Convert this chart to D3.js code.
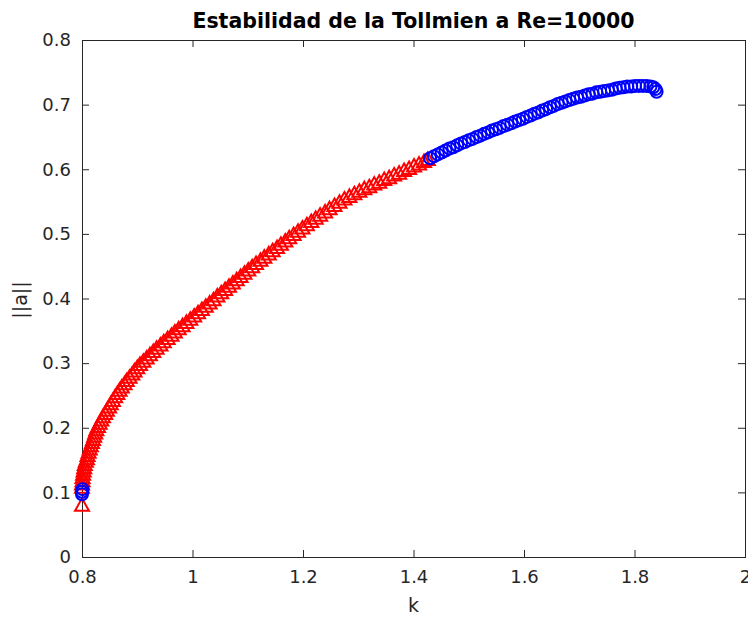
<!DOCTYPE html>
<html>
<head>
<meta charset="utf-8">
<script src="https://d3js.org/d3.v7.min.js"></script>
<style>
  body { margin: 0; background: #fff; }
  text { font-family: "DejaVu Sans", sans-serif; }
</style>
</head>
<body>
<script>
/* ----------------------
 Data:
 red triangles = first branch, blue circles = second branch
* ----------------------- */
var redK = [0.800, 0.800, 0.800, 0.801, 0.801, 0.802, 0.803, 0.804, 0.805, 0.807,
  0.809, 0.810, 0.812, 0.814, 0.816, 0.818, 0.820, 0.822, 0.824, 0.826,
  0.829, 0.832, 0.835, 0.838, 0.842, 0.845, 0.849, 0.852, 0.856, 0.860,
  0.864, 0.868, 0.872, 0.877, 0.881, 0.886, 0.891, 0.895, 0.900, 0.905,
  0.911, 0.917, 0.923, 0.929, 0.935, 0.942, 0.948, 0.955, 0.962, 0.968,
  0.975, 0.982, 0.989, 0.996, 1.003, 1.010, 1.017, 1.024, 1.031, 1.038,
  1.045, 1.052, 1.059, 1.066, 1.073, 1.080, 1.087, 1.094, 1.101, 1.108,
  1.115, 1.123, 1.130, 1.138, 1.145, 1.153, 1.160, 1.168, 1.175, 1.183,
  1.191, 1.199, 1.207, 1.215, 1.223, 1.231, 1.240, 1.248, 1.257, 1.266,
  1.275, 1.284, 1.293, 1.302, 1.311, 1.320, 1.329, 1.338, 1.347, 1.356,
  1.365, 1.374, 1.383, 1.392, 1.401, 1.410, 1.419, 1.426];
var redA = [0.080, 0.108, 0.113, 0.118, 0.123, 0.128, 0.133, 0.138, 0.143, 0.148,
  0.152, 0.157, 0.162, 0.167, 0.172, 0.177, 0.182, 0.187, 0.192, 0.197,
  0.202, 0.207, 0.212, 0.217, 0.222, 0.227, 0.232, 0.237, 0.242, 0.248,
  0.253, 0.258, 0.263, 0.268, 0.273, 0.278, 0.283, 0.288, 0.293, 0.298,
  0.303, 0.308, 0.313, 0.318, 0.323, 0.328, 0.333, 0.338, 0.343, 0.348,
  0.353, 0.358, 0.363, 0.368, 0.373, 0.378, 0.383, 0.388, 0.393, 0.398,
  0.404, 0.409, 0.414, 0.419, 0.424, 0.429, 0.434, 0.439, 0.444, 0.449,
  0.454, 0.459, 0.464, 0.469, 0.474, 0.479, 0.484, 0.489, 0.494, 0.499,
  0.504, 0.509, 0.514, 0.519, 0.524, 0.529, 0.534, 0.539, 0.544, 0.549,
  0.554, 0.558, 0.562, 0.566, 0.570, 0.573, 0.577, 0.580, 0.584, 0.587,
  0.591, 0.594, 0.598, 0.601, 0.605, 0.608, 0.612, 0.615];

var blueK = [0.800, 0.800, 0.801,
  1.430, 1.437, 1.444, 1.451, 1.458, 1.465, 1.472, 1.479, 1.486, 1.493,
  1.500, 1.507, 1.514, 1.521, 1.528, 1.535, 1.542, 1.549, 1.556, 1.563,
  1.570, 1.577, 1.584, 1.591, 1.598, 1.605, 1.612, 1.619, 1.626, 1.633,
  1.640, 1.647, 1.654, 1.661, 1.668, 1.675, 1.682, 1.689, 1.696, 1.703,
  1.710, 1.717, 1.724, 1.731, 1.738, 1.745, 1.752, 1.759, 1.766, 1.773,
  1.780, 1.787, 1.794, 1.801, 1.808, 1.815, 1.822, 1.829, 1.834, 1.838, 1.840];
var blueA = [0.097, 0.101, 0.105,
  0.617, 0.620, 0.623, 0.626, 0.629, 0.632, 0.634, 0.637, 0.640, 0.642,
  0.645, 0.647, 0.650, 0.652, 0.655, 0.657, 0.660, 0.662, 0.664, 0.667,
  0.669, 0.671, 0.674, 0.676, 0.678, 0.681, 0.683, 0.686, 0.688, 0.691,
  0.693, 0.696, 0.698, 0.701, 0.703, 0.705, 0.707, 0.709, 0.711, 0.712,
  0.714, 0.716, 0.717, 0.719, 0.720, 0.721, 0.722, 0.723, 0.725, 0.726,
  0.727, 0.728, 0.728, 0.729, 0.729, 0.729, 0.729, 0.728, 0.727, 0.724, 0.720];

var xTicks = [0.8, 1, 1.2, 1.4, 1.6, 1.8, 2];
var yTicks = [0, 0.1, 0.2, 0.3, 0.4, 0.5, 0.6, 0.7, 0.8];

var titleText = "Estabilidad de la Tollmien a Re=10000";

/*********************************************
** layout
** (note: "top" is taken by window.top, so use plotTop)
**********************************************/
var width = 748, height = 617;
var plotLeft = 82, plotRight = 745, plotTop = 40, plotBottom = 557;
var axisColor = "#262626";
var tickLen = 7;

var svg = d3.select("body").append("svg")
  .attr("width", width)
  .attr("height", height);

var x = d3.scaleLinear().domain([0.8, 2]).range([plotLeft, plotRight]);
var y = d3.scaleLinear().domain([0, 0.8]).range([plotBottom, plotTop]);

// frame + inward ticks on all four sides
function styleAxis(g){
  g.select(".domain").remove();
  g.selectAll(".tick line").attr("stroke", axisColor).attr("stroke-width", 1);
  g.selectAll(".tick text")
    .attr("fill", axisColor)
    .style("font-size", "18px")
    .style("font-family", "DejaVu Sans, sans-serif");
  return g;
}

svg.append("g")
  .attr("transform", "translate(0," + plotBottom + ")")
  .call(d3.axisBottom(x).tickValues(xTicks).tickSize(-tickLen).tickPadding(13)
        .tickFormat(d3.format("")))
  .call(styleAxis);

svg.append("g")
  .attr("transform", "translate(0," + plotTop + ")")
  .call(d3.axisTop(x).tickValues(xTicks).tickSize(-tickLen).tickFormat(""))
  .call(styleAxis);

svg.append("g")
  .attr("transform", "translate(" + plotLeft + ",0)")
  .call(d3.axisLeft(y).tickValues(yTicks).tickSize(-tickLen).tickPadding(11)
        .tickFormat(d3.format("")))
  .call(styleAxis);

svg.append("g")
  .attr("transform", "translate(" + plotRight + ",0)")
  .call(d3.axisRight(y).tickValues(yTicks).tickSize(-tickLen).tickFormat(""))
  .call(styleAxis);

svg.append("rect")
  .attr("x", plotLeft + 0.5)
  .attr("y", plotTop + 0.5)
  .attr("width", plotRight - plotLeft)
  .attr("height", plotBottom - plotTop)
  .attr("fill", "none")
  .attr("stroke", axisColor)
  .attr("stroke-width", 1);

/*********************************************
** markers
**********************************************/
var redPts = redK.map(function(k, i) { return [k, redA[i]]; });
var bluePts = blueK.map(function(k, i) { return [k, blueA[i]]; });

var plot = svg.append("g");

plot.selectAll(".tri")
  .data(redPts)
  .enter()
  .append("path")
  .attr("class", "tri")
  .attr("d", "M0,-7 L7,5.5 L-7,5.5 Z")
  .attr("transform", function(d) { return "translate(" + x(d[0]) + "," + y(d[1]) + ")"; })
  .attr("fill", "none")
  .attr("stroke", "#ff0000")
  .attr("stroke-width", 2);

plot.selectAll(".circ")
  .data(bluePts)
  .enter()
  .append("circle")
  .attr("class", "circ")
  .attr("cx", function(d) { return x(d[0]); })
  .attr("cy", function(d) { return y(d[1]); })
  .attr("r", 6)
  .attr("fill", "none")
  .attr("stroke", "#0000ff")
  .attr("stroke-width", 2);

/*********************************************
** labels
**********************************************/
svg.append("text")
  .attr("x", (plotLeft + plotRight) / 2)
  .attr("y", 28)
  .attr("text-anchor", "middle")
  .attr("fill", "#000")
  .style("font-size", "20.5px")
  .style("font-weight", "bold")
  .text(titleText);

svg.append("text")
  .attr("x", (plotLeft + plotRight) / 2)
  .attr("y", 612)
  .attr("text-anchor", "middle")
  .attr("fill", axisColor)
  .style("font-size", "19px")
  .text("k");

svg.append("text")
  .attr("transform", "translate(27,300) rotate(-90)")
  .attr("text-anchor", "middle")
  .attr("fill", axisColor)
  .style("font-size", "19px")
  .text("||a||");
</script>
</body>
</html>
